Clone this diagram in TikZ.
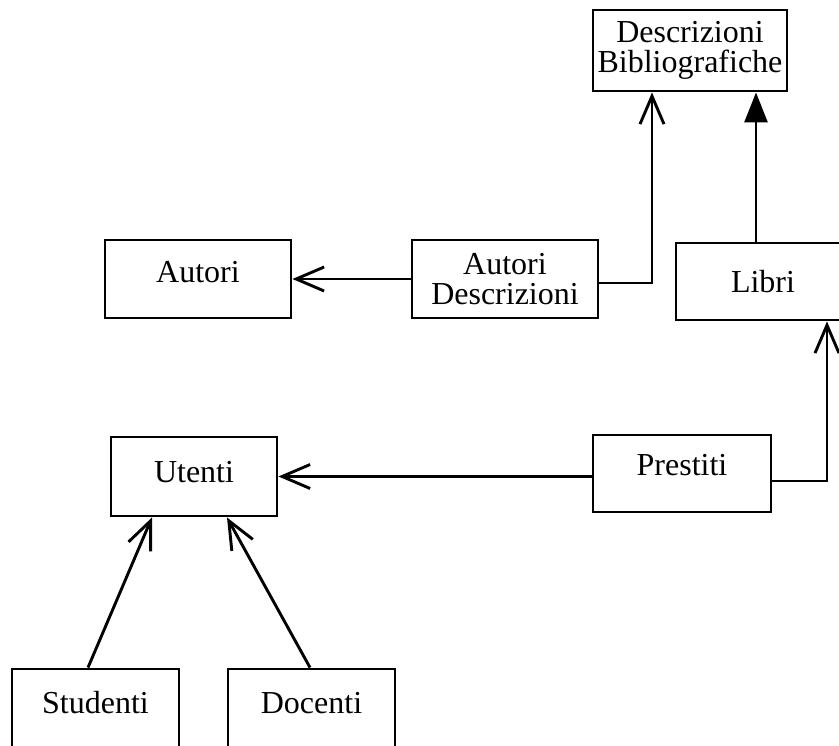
\documentclass[tikz,border=0pt]{standalone}
\usepackage{fontspec}
\setmainfont{Liberation Serif}
\usetikzlibrary{arrows.meta}
\begin{document}
\begin{tikzpicture}[x=1pt,y=-1pt,
  box/.style={draw, line width=2.9pt, inner sep=0pt, align=center,
    font=\fontsize{32}{30}\selectfont},
  link/.style={line width=2.9pt},
  isa/.style={link, -{Straight Barb[length=28pt,width=24pt]}},
  ref/.style={link, -{Triangle[length=30pt,width=23pt]}},
]
\useasboundingbox (0,0) rectangle (839,746);
\clip (0,0) rectangle (839,746);

% entities
\node[box, minimum width=194pt, minimum height=81pt] (desc) at (690,50.5) {Descrizioni\\Bibliografiche};
\node[box, minimum width=186pt, minimum height=78pt, text depth=14pt] (autori) at (198,279) {Autori};
\node[box, minimum width=186pt, minimum height=78pt] (ad) at (505,279) {Autori\\Descrizioni};
\node[box, minimum width=174pt, minimum height=77pt] (libri) at (763,281.5) {Libri};
\node[box, minimum width=166pt, minimum height=79pt, text depth=10pt] (utenti) at (194,476.5) {Utenti};
\node[box, minimum width=178pt, minimum height=77pt, text depth=18pt] (prestiti) at (682,473.5) {Prestiti};
\node[box, minimum width=167pt, minimum height=91pt, text depth=24pt] (studenti) at (95.5,714.5) {Studenti};
\node[box, minimum width=167pt, minimum height=91pt, text depth=24pt] (docenti) at (311.5,714.5) {Docenti};

% references
\draw[isa] (ad.west) -- (autori.east);
\draw[isa] ([yshift=-4pt]ad.east) -| ([xshift=-38pt]desc.south);
\draw[ref] ([xshift=-7pt]libri.north) -- ([xshift=66pt]desc.south);
\draw[isa] ([yshift=-7.5pt]prestiti.east) -| ([xshift=64pt]libri.south);
\draw[isa] (prestiti.west |- utenti.east) -- (utenti.east);

% specialisations
\draw[isa] ([xshift=-7.5pt]studenti.north) -- ([xshift=-42pt]utenti.south);
\draw[isa] ([xshift=-1.5pt]docenti.north) -- ([xshift=33pt]utenti.south);
\end{tikzpicture}
\end{document}
